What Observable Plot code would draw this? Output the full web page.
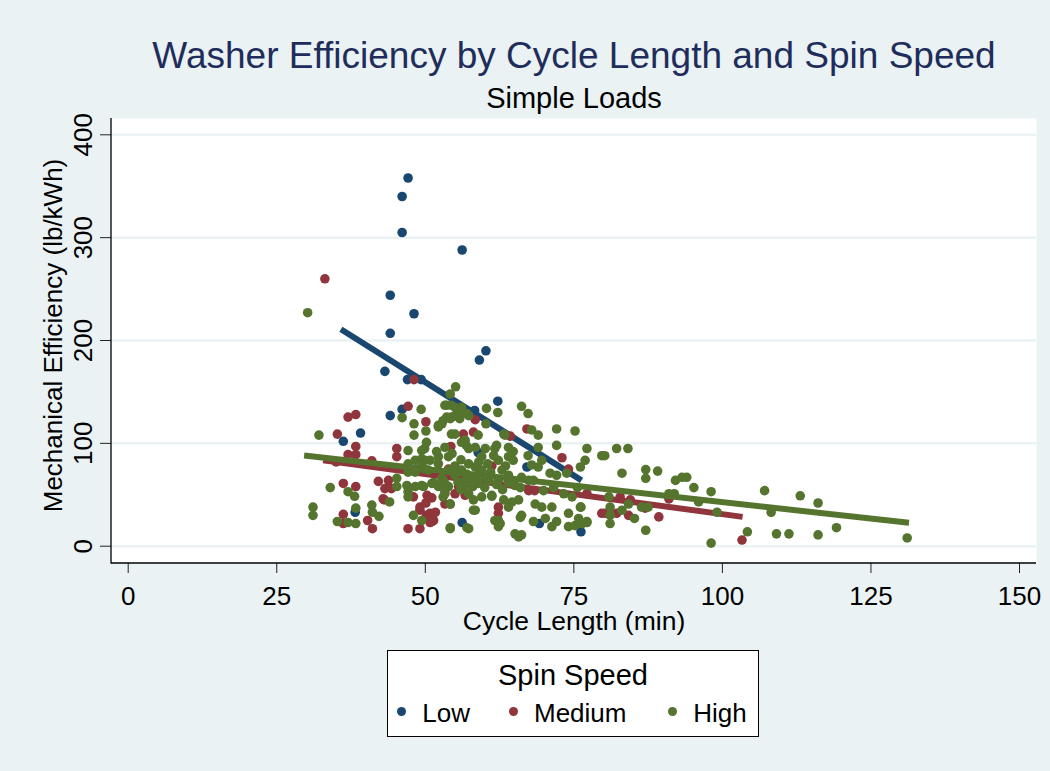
<!DOCTYPE html>
<html>
<head>
<meta charset="utf-8">
<script src="https://cdn.jsdelivr.net/npm/d3@7"></script>
<script src="https://cdn.jsdelivr.net/npm/@observablehq/plot@0.6"></script>
<style>
  html, body { margin: 0; padding: 0; background: #EAF2F3; }
  #wrap { position: relative; width: 1050px; height: 771px; background: #EAF2F3; overflow: hidden;
          font-family: "Liberation Sans", Arial, sans-serif; color: #000; }
  #chart { position: absolute; left: 0; top: 0; }
  #legend { position: absolute; left: 387px; top: 650px; width: 370px; height: 85px; background: #fff; border: 1px solid #000; }
  .lg { position: absolute; line-height: 1; white-space: nowrap; }
  .mk { position: absolute; width: 9px; height: 9px; border-radius: 50%; }
</style>
</head>
<body>
<div id="wrap">
  <div id="chart"></div>
  <div id="legend"></div>
  <div class="lg" id="legTitle" style="left:387px; width:372px; text-align:center; top:660.5px; font-size:29px;"></div>
  <div id="legItems"></div>
</div>
<script>
// ---- Data ----
const titleText = "Washer Efficiency by Cycle Length and Spin Speed";
const subtitleText = "Simple Loads";
const xLabel = "Cycle Length (min)";
const yLabel = "Mechanical Efficiency (lb/kWh)";
const legendTitle = "Spin Speed";
const seriesNames = ["Low", "Medium", "High"];
const seriesColors = ["#1a476f", "#90353b", "#55752f"];
const xTicks = [0, 25, 50, 75, 100, 125, 150];
const yTicks = [0, 100, 200, 300, 400];

const lowPts = [[47.1,358],[46.1,340],[46.1,305],[56.2,288],[44.1,244],[48.1,226],[44.1,207],[60.2,190],[59.1,181],
  [43.2,170],[47,162],[49.3,162],[62.2,141],[58.3,132],[46.1,133],[44.1,127],[39.1,110],[36.2,102],[58.9,91],
  [67.1,77],[38.2,33],[56.2,23],[69.2,22],[76.2,14]];

const medPts = [[33.1,260],[48.1,162],[47.1,136],[37,125.5],[38.3,128],[50.1,121],[35.2,109],[38.3,97],[37,89],[38.3,89],
  [35,82],[45.2,95],[45.2,87],[54.3,97],[42.1,63],[43.8,64],[43.2,56],[44.3,56],[36.2,61],[38.3,58],[43.1,45],
  [50.3,49.5],[51.1,47],[48,48],[55,51],[50.1,42],[53.3,41],[49.1,35],[50.8,32],[51.7,33],[50.8,23],[51.4,25],
  [36.2,31],[36.2,22],[40.3,25],[41.1,17],[47.1,17],[49.1,17],[55.6,58],[58.1,111],[58.4,123],[56.4,109],[62.3,38],
  [62.3,32],[61.2,78],[64.3,107],[56.7,49.5],[67.1,114],[54.2,96],[73,86],[74.1,75],[67.4,54],[79.7,32],[80.3,32],
  [82.2,32],[84.2,30],[82.8,48],[84.5,45],[87,37],[89.3,28.5],[91,46],[103.3,6],[77.2,51],[68.4,54],[41,83],
  [53.9,75],[50.2,30],[49.1,38],[51.1,24],[42.9,46],[54.2,41]];

const highPts = [[30.2,227],[55.1,155],[54.2,148],
  [53.3,137],[54.4,137],[49.3,133],[46.1,125],[48.1,119],[50.1,112],[48.1,108],[52.2,116],[52.8,119],[54.2,124],[55,127],
  [55.8,129],[57,129],[60.3,134],[62.2,130],[60.2,119],[32.1,108],[50.2,101],[49.9,95],[49.4,93],[47.1,93],[53.3,96],
  [55,109],[56.7,103],[57.3,95],[58.4,96],[60.1,95],[61.7,95],[63.4,108],[34,57],[37,53],[38.1,48.5],[31.1,38],[31.1,30],
  [35.2,24],[37,23],[38.3,22],[38.3,37],[41,40],[41.1,33],[42.2,29],[44,43],[45.2,66],[45.2,58],[47.1,53],[48.3,58],
  [49.4,59],[51.1,61],[47.1,48],[48,30],[49.4,25],[54.2,18],[57,18],[54.2,41],[53.3,51],[52.8,66],[53.9,74],[52.2,80],
  [48.3,83.5],[49.9,83.5],[47.1,72],[48.3,72],[49.4,77],[56.1,74],[57.3,80],[58.4,77],[59.5,74],[56.7,64],[57.8,67],
  [58.9,61],[60.6,64],[57.3,51],[58.1,45],[58.1,35],[59.5,48],[61.2,49.5],[62.3,83.5],[62.9,74],[64,69],[62.3,25],
  [62.3,19],[59.5,87],[53.9,87],[50.5,74],[51.4,62],[53.3,61],[55,69],
  [53.6,137],[55,135],[56.1,135],[66.2,136],[67.3,129],[57.3,127],[54.4,125.5],[55.8,124],[72.1,114],[75.2,112],
  [67.9,113],[69,108],[63.2,109],[54.4,109],[58.9,108],[56.1,101],[56.9,98],[62,98],[64,96],[64.8,92],[64,87],
  [64.8,83.5],[69,96],[72.1,98],[67.3,88],[67.9,79],[69,77],[69.6,83.5],[77.2,95],[76.9,83.5],[76.1,77],[79.7,88],
  [71,71],[72.1,69],[73.8,71],[66.2,67],[67.4,64],[65.1,59],[62.3,64],[60.1,67],[58.4,64],[56.7,59],[61.2,48.5],
  [63.2,45],[64.6,43],[65.7,45],[68.5,41],[69.6,38],[71.3,38],[74.1,32],[76.1,38],[66.2,30],[58.4,35],[61.7,25],
  [62.6,22],[68.2,24],[70.2,27],[72.1,24],[71.3,19],[74.1,19],[75.2,20],[76.4,22],[77.2,24],[65.1,12],[66.2,11],
  [65.7,9],[54.2,17],[57.3,17],
  [80.2,88],[82.2,95],[84.1,95],[83.1,71],[87.1,74.5],[89.1,73],[87.1,66],[92.1,64],[93.2,67],[94,67],[95.2,57],
  [91,51],[91.9,51],[80.9,48],[81.1,38],[81.1,30],[81.1,22],[84.2,41],[83.1,35],[85.2,27],[86.4,38],[87.5,38],[87.1,15.5],
  [96,43],[76.2,38],[75.8,27],[77.2,23],
  [98.1,53],[99.1,33],[98.1,3],[104.2,14],[107.1,54],[108.2,33],[109.1,12],[111.2,12],[113.1,49],[116.1,42],
  [116.1,11],[119.2,18],[131.1,8],
  [46.9,59],[49.7,58],[49.4,85],[50.8,83.5],[52.2,87],[47.1,80],[48.5,75],[49.9,75],[53,64],[52.2,58],[53.9,58],
  [53.3,53],[53,48],[51.9,92],[52.2,117.5],[53,122],[53.6,125.5],
  [55.5,62],[56,55],[57,70],[58,58],[59,70],[60,57],[61,72],[62,60],[63,55],[64,62],[63.5,78],[60.5,80],[59,82],
  [61.5,88],[56,84],[55,78],[54.5,90],
  [68.2,64],[69.9,54],[71.6,57],[73.3,51],[74.7,48],[75.6,57],[66,57],[64,38],[66,28]];

// fitted lines (endpoints)
const lowFit = [[35.8,211],[76.3,64]];
const medFit = [[32.8,83.5],[103.4,28.5]];
const highFit = [[29.6,88.1],[131.4,22.7]];

// ---- Chart ----
const W = 1050, H = 771;
const mL = 111, mR = 14, mT = 118, mB = 208;
const font = "Liberation Sans, Arial, sans-serif";
const px = d => d[0], py = d => d[1];
const dotR = 4.8, lineW = 6;

const plot = Plot.plot({
  width: W, height: H,
  marginLeft: mL, marginRight: mR, marginTop: mT, marginBottom: mB,
  style: { background: "transparent", fontFamily: font, color: "#000", overflow: "visible" },
  x: { domain: [0, 150], range: [127.7, 1019] },
  y: { domain: [0, 400], range: [545.7, 134.3] },
  marks: [
    Plot.frame({ fill: "#ffffff", stroke: "none" }),
    Plot.gridY(yTicks, { stroke: "#EAF2F3", strokeOpacity: 1, strokeWidth: 2.5 }),
    Plot.axisX(xTicks, { tickSize: 10, tickPadding: 13.5, fontSize: 26, label: null, stroke: "#222" }),
    Plot.axisY(yTicks, { tickSize: 11, tickPadding: 8.3, tickRotate: -90, fontSize: 26, label: null, stroke: "#222" }),
    Plot.dot(lowPts, { x: px, y: py, r: dotR, fill: seriesColors[0], stroke: "none" }),
    Plot.line(lowFit, { x: px, y: py, stroke: seriesColors[0], strokeWidth: lineW, strokeLinecap: "butt" }),
    Plot.dot(medPts, { x: px, y: py, r: dotR, fill: seriesColors[1], stroke: "none" }),
    Plot.line(medFit, { x: px, y: py, stroke: seriesColors[1], strokeWidth: lineW, strokeLinecap: "butt" }),
    Plot.dot(highPts, { x: px, y: py, r: dotR, fill: seriesColors[2], stroke: "none" }),
    Plot.line(highFit, { x: px, y: py, stroke: seriesColors[2], strokeWidth: lineW, strokeLinecap: "butt" }),
    Plot.text([titleText], { frameAnchor: "top", dy: -51, lineAnchor: "bottom", fontSize: 37, fill: "#1e2d5c" }),
    Plot.text([subtitleText], { frameAnchor: "top", dy: -10.5, lineAnchor: "bottom", fontSize: 29, fill: "#000" }),
    Plot.text([xLabel], { frameAnchor: "bottom", dy: 66.5, lineAnchor: "bottom", fontSize: 26.5, fill: "#000" }),
    Plot.text([yLabel], { frameAnchor: "left", textAnchor: "middle", dx: -49.3, dy: -5.5, rotate: -90, lineAnchor: "bottom", fontSize: 26, fill: "#000" })
  ]
});

// axis lines (structural)
const s = d3.select(plot);
s.append("line").attr("x1", mL).attr("x2", mL).attr("y1", mT).attr("y2", H - mB + 0.5)
  .attr("stroke", "#000").attr("stroke-width", 1.3);
s.append("line").attr("x1", mL).attr("x2", W - mR).attr("y1", H - mB).attr("y2", H - mB)
  .attr("stroke", "#000").attr("stroke-width", 1.3);

document.getElementById("chart").appendChild(plot);

// ---- Legend ----
document.getElementById("legTitle").textContent = legendTitle;
const legItems = document.getElementById("legItems");
const mkX = [401.7, 513.3, 672.3];
const txX = [422.3, 534, 693.3];
seriesNames.forEach((name, i) => {
  const m = document.createElement("div");
  m.className = "mk";
  m.style.left = (mkX[i] - 4.5) + "px";
  m.style.top = (711.7 - 4.5) + "px";
  m.style.background = seriesColors[i];
  legItems.appendChild(m);
  const t = document.createElement("div");
  t.className = "lg";
  t.style.left = txX[i] + "px";
  t.style.top = "699.7px";
  t.style.fontSize = "26px";
  t.textContent = name;
  legItems.appendChild(t);
});
</script>
</body>
</html>
